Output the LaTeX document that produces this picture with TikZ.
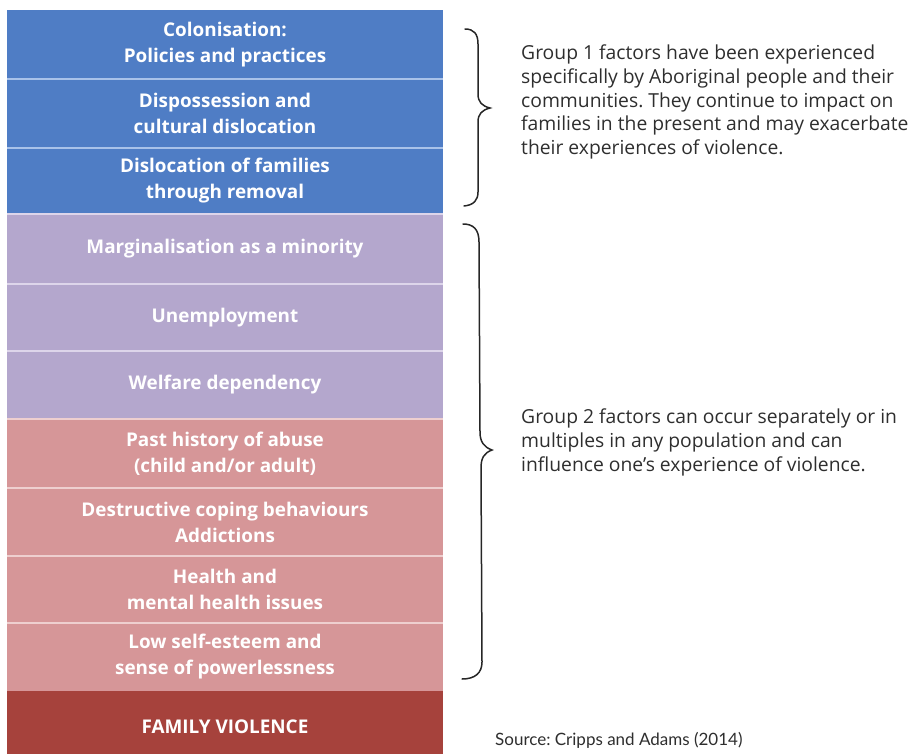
\documentclass[tikz,border=0pt]{standalone}
\usepackage{fontspec}
\setmainfont{Open Sans}
\newfontfamily\srcfont{Lato}
\frenchspacing
\definecolor{blueF}{HTML}{4F7DC5}
\definecolor{blueS}{HTML}{A9C2E9}
\definecolor{purpF}{HTML}{B4A7CD}
\definecolor{purpS}{HTML}{DDD5EA}
\definecolor{pinkF}{HTML}{D69698}
\definecolor{pinkS}{HTML}{EECFCF}
\definecolor{redF}{HTML}{A6423C}
\definecolor{bodyT}{HTML}{2E2E2E}
\begin{document}
\begin{tikzpicture}[x=1pt,y=-1pt,
  factor/.style={minimum width=436pt, inner sep=0pt, outer sep=0pt,
    align=center, text=white, font=\bfseries\fontsize{18.9}{26}\selectfont},
  sep/.style={line width=2pt},
  brace/.style={line width=1.5pt, draw=black!85, line cap=round},
  note/.style={anchor=north west, inner sep=0pt, align=left, text=bodyT,
    font=\fontsize{19.3}{23.8}\selectfont}]
\useasboundingbox (0,0) rectangle (910,753);

% Group 1 factors
\node[factor, fill=blueF, minimum height=69pt] (b1) at (225,44.5) {Colonisation:\\Policies and practices};
\node[factor, fill=blueF, minimum height=69pt] (b2) at (225,113.5) {Dispossession and\\cultural dislocation};
\node[factor, fill=blueF, minimum height=66pt] (b3) at (225,181) {Dislocation of families\\through removal};
% Group 2 factors
\node[factor, fill=purpF, minimum height=70pt] (b4) at (225,249) {Marginalisation as a minority};
\node[factor, fill=purpF, minimum height=67pt] (b5) at (225,317.5) {Unemployment};
\node[factor, fill=purpF, minimum height=68pt] (b6) at (225,385) {Welfare dependency};
\node[factor, fill=pinkF, minimum height=69pt] (b7) at (225,453.5) {Past history of abuse\\(child and/or adult)};
\node[factor, fill=pinkF, minimum height=68pt] (b8) at (225,522) {Destructive coping behaviours\\Addictions};
\node[factor, fill=pinkF, minimum height=67pt] (b9) at (225,589.5) {Health and\\mental health issues};
\node[factor, fill=pinkF, minimum height=68pt] (b10) at (225,657) {Low self-esteem and\\sense of powerlessness};
% outcome, running past the lower edge of the page
\node[factor, fill=redF, minimum height=72pt] (b11) at (225,727) {FAMILY VIOLENCE};

% light separators between rows
\draw[sep, blueS] (b1.south west) -- (b1.south east);
\draw[sep, blueS] (b2.south west) -- (b2.south east);
\draw[sep, purpS] (b3.south west) -- (b3.south east);
\draw[sep, purpS] (b4.south west) -- (b4.south east);
\draw[sep, purpS] (b5.south west) -- (b5.south east);
\draw[sep, pinkS] (b6.south west) -- (b6.south east);
\draw[sep, pinkS] (b7.south west) -- (b7.south east);
\draw[sep, pinkS] (b8.south west) -- (b8.south east);
\draw[sep, pinkS] (b9.south west) -- (b9.south east);

% braces
\draw[brace] (465,29) .. controls (474,29) and (478,34) .. (478,44) -- (478,94)
  .. controls (478,102) and (482,106) .. (490,108)
  .. controls (482,110) and (478,114) .. (478,122) -- (478,192)
  .. controls (478,200) and (474,205) .. (464,206);
\draw[brace] (463,224) .. controls (473,224) and (479,229) .. (479,242) -- (480,432)
  .. controls (480,442) and (484,447) .. (492,450)
  .. controls (484,453) and (481,458) .. (481,468) -- (482,662)
  .. controls (482,673) and (475,679) .. (462,679);

% explanatory notes
\node[note] (g1) at (521,44.5) {Group 1 factors have been experienced\\specifically by Aboriginal people and their\\communities. They continue to impact on\\families in the present and may exacerbate\\their experiences of violence.};
\node[note] (g2) at (521,408.5) {Group 2 factors can occur separately or in\\multiples in any population and can\\influence one's experience of violence.};
\node[anchor=base west, inner sep=0pt, text=bodyT, font=\srcfont\fontsize{17}{20}\selectfont] (src) at (495,745) {Source: Cripps and Adams (2014)};
\end{tikzpicture}
\end{document}
